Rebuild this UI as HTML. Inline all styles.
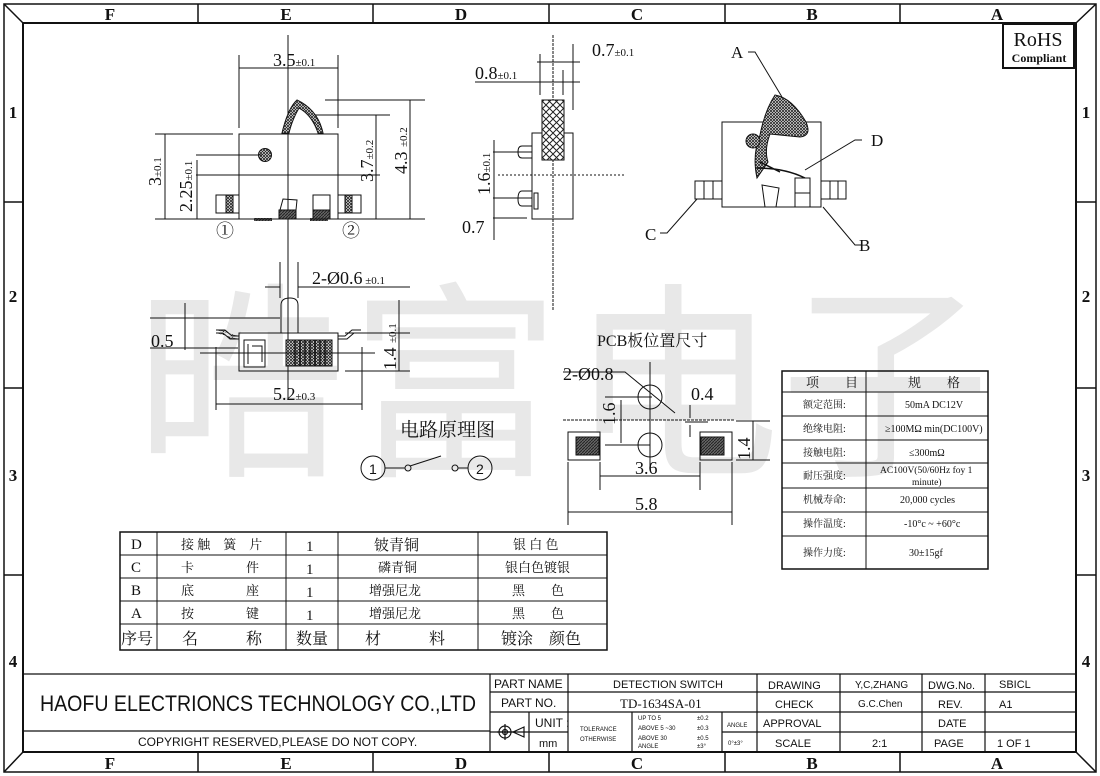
<!DOCTYPE html>
<html><head><meta charset="utf-8"><style>
body{margin:0;background:#fff}
svg{display:block}
text{font-family:"Liberation Serif","Noto Serif CJK SC",serif;fill:#111}
text.s,.s text{font-family:"Liberation Sans","Noto Sans CJK SC",sans-serif}
text.c,.c text{font-family:"Liberation Serif","Noto Serif CJK SC",serif}
text.w{fill:#e8e8e8;font-family:"Noto Sans CJK SC",sans-serif}
</style></head><body>
<svg width="1100" height="776" viewBox="0 0 1100 776" xmlns="http://www.w3.org/2000/svg">
<defs>
<pattern id="h" width="3" height="3" patternUnits="userSpaceOnUse"><rect width="3" height="3" fill="#fff"/><path d="M0 3L3 0M0 0L3 3" stroke="#222" stroke-width="0.8"/></pattern>
<pattern id="x" width="7" height="7" patternUnits="userSpaceOnUse"><rect width="7" height="7" fill="#fff"/><path d="M0 7L7 0M0 0L7 7" stroke="#222" stroke-width="1"/></pattern>
<pattern id="d" width="3" height="3" patternUnits="userSpaceOnUse"><rect width="3" height="3" fill="#666"/><path d="M0 3L3 0" stroke="#222" stroke-width="1"/></pattern>
</defs>
<g font-size="210">
<text class="w" x="135" y="460">晧</text>
<text class="w" x="350" y="460">富</text>
<text class="w" x="570" y="460">电</text>
<text class="w" x="780" y="460">子</text>
</g>
<g fill="none" stroke="#111" stroke-width="1.5">
<rect x="4" y="4" width="1092" height="768"/>
<rect x="23" y="23" width="1053" height="729" stroke-width="2"/>
<path d="M4 4L23 23M1096 4L1076 23M4 772L23 752M1096 772L1076 752"/>
<path d="M198 4V23M373 4V23M549 4V23M725 4V23M900 4V23M198 752V772M373 752V772M549 752V772M725 752V772M900 752V772"/>
<path d="M4 202H23M4 388H23M4 575H23M1076 202H1096M1076 388H1096M1076 575H1096"/>
</g>
<g font-size="17" font-weight="bold" text-anchor="middle">
<text x="110" y="20">F</text><text x="286" y="20">E</text><text x="461" y="20">D</text><text x="637" y="20">C</text><text x="812" y="20">B</text><text x="997" y="20">A</text>
<text x="110" y="769">F</text><text x="286" y="769">E</text><text x="461" y="769">D</text><text x="637" y="769">C</text><text x="812" y="769">B</text><text x="997" y="769">A</text>
<text x="13" y="118">1</text><text x="13" y="302">2</text><text x="13" y="481">3</text><text x="13" y="667">4</text>
<text x="1086" y="118">1</text><text x="1086" y="302">2</text><text x="1086" y="481">3</text><text x="1086" y="667">4</text>
</g>
<rect x="1003" y="24" width="71" height="44" fill="#fff" stroke="#111" stroke-width="2"/>
<text x="1038" y="46" font-size="20" text-anchor="middle">RoHS</text>
<text x="1039" y="62" font-size="12" font-weight="bold" text-anchor="middle">Compliant</text>

<!-- front view -->
<g stroke="#111" fill="none" stroke-width="1">
<path d="M288 35V400"/>
<rect x="239" y="134" width="99" height="85"/>
<path d="M282 133Q288 108 297 100Q318 110 323 133L318 133Q312 115 299 108Q292 120 289 133Z" fill="url(#h)"/>
<circle cx="265" cy="155" r="6.5" fill="url(#h)"/>
<rect x="216" y="195" width="23" height="18"/><rect x="226" y="195" width="7" height="18" fill="url(#h)"/>
<rect x="338" y="195" width="23" height="18"/><rect x="345" y="195" width="7" height="18" fill="url(#h)"/>
<path d="M280 210L283 199L297 200L296 210Z"/><rect x="279" y="210" width="17" height="9" fill="url(#d)"/>
<rect x="313" y="195" width="17" height="24"/><rect x="313" y="210" width="17" height="9" fill="url(#d)"/>
<rect x="254" y="218" width="18" height="3" fill="url(#d)" stroke="none"/><rect x="310" y="218" width="18" height="3" fill="url(#d)" stroke="none"/>
<path d="M239 55V128M338 55V128M239 68H338"/>
<path d="M155 134H233M155 219H425M165 134V219M196 155H262M196 175H380M197 160V219"/>
<path d="M325 100H425M315 115H390M376 115V219M410 100V219"/>
</g>
<g font-size="18">
<text x="273" y="66">3.5<tspan font-size="11">±0.1</tspan></text>
<text transform="translate(161,186) rotate(-90)">3<tspan font-size="11">±0.1</tspan></text>
<text transform="translate(192,212) rotate(-90)">2.25<tspan font-size="11">±0.1</tspan></text>
<text transform="translate(373,182) rotate(-90)">3.7<tspan font-size="11">±0.2</tspan></text>
<text transform="translate(407,174) rotate(-90)">4.3 <tspan font-size="11">±0.2</tspan></text>
<text x="216" y="237">①</text><text x="342" y="237">②</text>
</g>

<!-- bottom view -->
<g stroke="#111" fill="none" stroke-width="1">
<rect x="239" y="333" width="99" height="38"/>
<path d="M281 333V305Q281 298 290 298Q298 298 298 305V333"/>
<path d="M216 330H225L232 336H239M216 333H223L230 339H239" fill="url(#h)"/>
<path d="M338 336H345L352 330H361M338 339H347L354 333H361"/>
<path d="M244 340H265V367H244ZM248 344V364M252 346H262V362"/>
<rect x="286" y="340" width="46" height="26" fill="url(#h)"/>
<path d="M295 340V366M300 340V366M305 340V366M310 340V366M315 340V366M320 340V366M325 340V366" stroke-width="1.5"/>
<path d="M280 262V298M298 262V298M265 287H280M298 287H410"/>
<path d="M150 318H280M150 348H238M185 303V350"/>
<path d="M345 333H410M345 371H410M399 300V371M200 353H375"/>
<path d="M216 347V410M362 347V410M216 404H362"/>
</g>
<g font-size="18">
<text x="312" y="284">2-Ø0.6<tspan font-size="11"> ±0.1</tspan></text>
<text x="151" y="347">0.5</text>
<text transform="translate(396,370) rotate(-90)">1.4 <tspan font-size="11">±0.1</tspan></text>
<text x="273" y="400">5.2<tspan font-size="11">±0.3</tspan></text>
</g>

<!-- side view -->
<g stroke="#111" fill="none" stroke-width="1">
<path d="M553 35V310" stroke-dasharray="3 1"/>
<rect x="532" y="133" width="41" height="86"/>
<rect x="542" y="100" width="22" height="60" fill="url(#x)"/>
<path d="M522 146H532V158H522Q518 158 518 152Q518 146 522 146ZM522 191H532V206H522Q518 206 518 199Q518 191 522 191Z"/>
<rect x="534" y="193" width="4" height="16"/>
<path d="M540 54V95M573 44V110M537 62H580M475 82H580M563 70V95"/>
<path d="M493 152H532M493 198H532M493 218H527M494 140V240"/>
<path d="M498 175H625" stroke-dasharray="2 2"/>
</g>
<g font-size="18">
<text x="592" y="56">0.7<tspan font-size="11">±0.1</tspan></text>
<text x="475" y="79">0.8<tspan font-size="11">±0.1</tspan></text>
<text transform="translate(490,195) rotate(-90)">1.6<tspan font-size="11">±0.1</tspan></text>
<text x="462" y="233">0.7</text>
</g>

<!-- iso view -->
<g stroke="#111" fill="none" stroke-width="1">
<rect x="722" y="122" width="99" height="85"/>
<path d="M775 95Q792 98 806 122Q812 136 800 137L770 134Q764 150 768 162L757 178Q752 155 760 135Q765 110 775 95Z" fill="url(#h)"/>
<circle cx="753" cy="141" r="7" fill="url(#h)"/>
<path d="M760 162L780 172M757 168Q785 168 805 178" stroke-width="1.5"/>
<path d="M765 207L762 185L779 188L776 207"/>
<path d="M795 207V178H810V207M795 193H810"/>
<path d="M695 181H722V199H695ZM704 181V199M713 181V199M821 181H846V199H821ZM830 181V199M838 181V199"/>
<path d="M748 52H755L782 97M862 140H855L805 170M660 233H667L697 199M862 245H855L823 207"/>
</g>
<g font-size="17">
<text x="731" y="58">A</text><text x="871" y="146">D</text><text x="645" y="240">C</text><text x="859" y="251">B</text>
</g>

<!-- circuit -->
<text x="400" y="436" font-size="19">电路原理图</text>
<g stroke="#111" fill="none" stroke-width="1">
<circle cx="373" cy="468" r="12"/><circle cx="480" cy="468" r="12"/>
<path d="M385 468H405M458 468H468"/><circle cx="408" cy="468" r="3"/><circle cx="455" cy="468" r="3"/>
<path d="M410 466L441 456"/>
</g>
<text x="369" y="474" font-size="14" class="s">1</text><text x="476" y="474" font-size="14" class="s">2</text>

<!-- PCB -->
<text x="597" y="346" font-size="16">PCB板位置尺寸</text>
<g stroke="#111" fill="none" stroke-width="1">
<path d="M650 362V470"/>
<circle cx="650" cy="397" r="12"/><circle cx="650" cy="445" r="12"/>
<path d="M563 372H625L675 413"/>
<path d="M563 420H735" stroke-dasharray="3 1"/>
<path d="M605 397H652M605 445H650M621 400V443"/>
<rect x="568" y="432" width="32" height="28"/><rect x="576" y="437" width="23" height="18" fill="url(#d)"/>
<rect x="700" y="432" width="32" height="28"/><rect x="701" y="437" width="23" height="18" fill="url(#d)"/>
<path d="M690 405V418M690 425V437M685 422H708"/>
<path d="M736 421H770M736 460H770M753 421V460"/>
<path d="M600 462V490M700 462V490M600 476H700M568 462V525M732 462V525M568 512H732"/>
</g>
<g font-size="18">
<text x="563" y="380">2-Ø0.8</text>
<text x="691" y="400">0.4</text>
<text transform="translate(615,425) rotate(-90)">1.6</text>
<text transform="translate(750,460) rotate(-90)">1.4</text>
<text x="635" y="474">3.6</text>
<text x="635" y="510">5.8</text>
</g>

<!-- spec table -->
<g stroke="#111" fill="none" stroke-width="1">
<rect x="782" y="371" width="206" height="198" stroke-width="1.5"/>
<path d="M866 371V569M782 392H988M782 416H988M782 440H988M782 463H988M782 488H988M782 512H988M782 536H988"/>
</g>
<g font-size="10" class="c">
<text x="806" y="387" font-size="13">项　　目</text><text x="908" y="387" font-size="13">规　　格</text>
<text x="803" y="408">额定范围:</text><text x="905" y="408">50mA DC12V</text>
<text x="803" y="432">绝缘电阻:</text><text x="885" y="432">≥100MΩ min(DC100V)</text>
<text x="803" y="456">接触电阻:</text><text x="909" y="456">≤300mΩ</text>
<text x="803" y="479">耐压强度:</text><text x="880" y="473" font-size="9.5">AC100V(50/60Hz foy 1</text><text x="912" y="485" font-size="9.5">minute)</text>
<text x="803" y="503">机械寿命:</text><text x="900" y="503">20,000 cycles</text>
<text x="803" y="527">操作温度:</text><text x="904" y="527">-10°c ~ +60°c</text>
<text x="803" y="556">操作力度:</text><text x="909" y="556">30±15gf</text>
</g>

<!-- parts table -->
<g stroke="#111" fill="none" stroke-width="1">
<rect x="120" y="532" width="487" height="118" stroke-width="1.5"/>
<path d="M157 532V650M286 532V650M338 532V650M478 532V650M120 555H607M120 578H607M120 601H607M120 624H607"/>
</g>
<g font-size="13" class="c">
<text x="131" y="549" class="s" font-size="15">D</text><text x="131" y="572" class="s" font-size="15">C</text><text x="131" y="595" class="s" font-size="15">B</text><text x="131" y="618" class="s" font-size="15">A</text>
<text x="181" y="549">接 触　簧　片</text><text x="181" y="572">卡　　　　件</text><text x="181" y="595">底　　　　座</text><text x="181" y="618">按　　　　键</text>
<text x="306" y="551" font-size="15">1</text><text x="306" y="574" font-size="15">1</text><text x="306" y="597" font-size="15">1</text><text x="306" y="620" font-size="15">1</text>
<text x="374" y="550" font-size="15">铍青铜</text><text x="378" y="572">磷青铜</text><text x="369" y="595">增强尼龙</text><text x="369" y="618">增强尼龙</text>
<text x="513" y="549">银 白 色</text><text x="505" y="572">银白色镀银</text><text x="512" y="595">黑　　色</text><text x="512" y="618">黑　　色</text>
<text x="121" y="644" class="s" font-size="16">序号</text><text x="182" y="644" class="s" font-size="16">名　　　称</text><text x="296" y="644" class="s" font-size="16">数量</text><text x="365" y="644" class="s" font-size="16">材　　　料</text><text x="501" y="644" class="s" font-size="16">镀涂　颜色</text>
</g>

<!-- title block -->
<g stroke="#111" fill="none" stroke-width="1.2">
<path d="M23 674H1076M23 731H490M490 692H1076M490 712H1076M490 732H568M722 732H1076"/>
<path d="M490 674V752M568 674V752M529 712V752M632 712V752M722 712V752M757 674V752M840 674V752M922 674V752M985 674V752"/>
<circle cx="505" cy="732" r="6"/><circle cx="505" cy="732" r="2.5"/><path d="M497 732H513M505 724V740M513 732L524 727V737Z"/>
</g>
<g class="s" font-size="11">
<text x="40" y="711" font-size="22" textLength="436" lengthAdjust="spacingAndGlyphs">HAΟFU ELECTRIΟNCS TECHNΟLΟGY CΟ.,LTD</text>
<text x="138" y="746" font-size="12">COPYRIGHT RESERVED,PLEASE DO NOT COPY.</text>
<text x="494" y="688" font-size="12">PART NAME</text><text x="501" y="707" font-size="12">PART NO.</text>
<text x="613" y="688" font-size="11">DETECTION SWITCH</text>
<text x="620" y="708" font-size="13" class="c">TD-1634SA-01</text>
<text x="535" y="727" font-size="12">UNIT :</text><text x="539" y="747">mm</text>
<text x="580" y="731" font-size="6">TOLERANCE</text><text x="580" y="741" font-size="6">OTHERWISE</text>
<text x="638" y="720" font-size="6">UP TO 5</text><text x="638" y="730" font-size="6">ABOVE 5 ~30</text><text x="638" y="740" font-size="6">ABOVE 30</text><text x="638" y="748" font-size="6">ANGLE</text>
<text x="697" y="720" font-size="6">±0.2</text><text x="697" y="730" font-size="6">±0.3</text><text x="697" y="740" font-size="6">±0.5</text><text x="697" y="748" font-size="6">±3°</text>
<text x="727" y="727" font-size="6">ANGLE</text><text x="728" y="745" font-size="6">0°±3°</text>
<text x="768" y="689">DRAWING</text><text x="775" y="708">CHECK</text><text x="763" y="727">APPROVAL</text><text x="775" y="747">SCALE</text>
<text x="855" y="688" font-size="10">Y,C,ZHANG</text><text x="858" y="707" font-size="10">G.C.Chen</text><text x="872" y="747">2:1</text>
<text x="928" y="689">DWG.No.</text><text x="938" y="708">REV.</text><text x="938" y="727">DATE</text><text x="934" y="747">PAGE</text>
<text x="999" y="688">SBICL</text><text x="999" y="708">A1</text><text x="997" y="747">1 OF 1</text>
</g>
</svg>
</body></html>
